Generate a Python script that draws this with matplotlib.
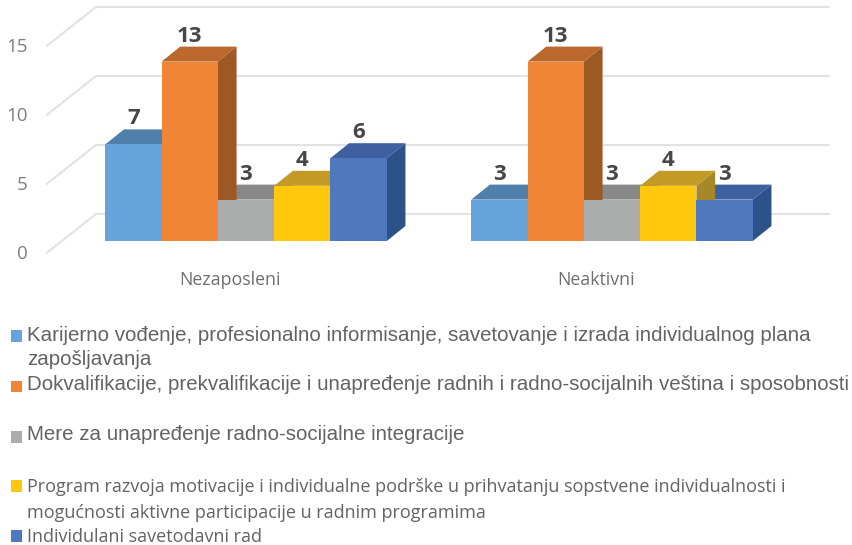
import matplotlib
matplotlib.use("Agg")
import matplotlib.pyplot as plt
from matplotlib.patches import Polygon, Rectangle

W, H = 853, 545
categories = ["Nezaposleni", "Neaktivni"]
karijerno = [7, 3]
dokvalifikacije = [13, 13]
mere = [3, 3]
program = [4, 4]
savetodavni = [6, 3]
y_ticks = [0, 5, 10, 15]

series = [karijerno, dokvalifikacije, mere, program, savetodavni]
front = ["#65A3DA", "#F08536", "#ABACAC", "#FFC80D", "#4F79BE"]
top = ["#4F80AB", "#BA682B", "#888888", "#C49A27", "#3E60A0"]
side = ["#3F6F9A", "#9E5823", "#6B6B6B", "#A68828", "#2D5289"]

legend_rows = [
    (["Karijerno vođenje, profesionalno informisanje, savetovanje i izrada individualnog plana",
      "zapošljavanja"], [340.7, 365], 330, 14.75, "Liberation Sans"),
    (["Dokvalifikacije, prekvalifikacije i unapređenje radnih i radno-socijalnih veština i sposobnosti"],
     [390], 380.5, 14.75, "Liberation Sans"),
    (["Mere za unapređenje radno-socijalne integracije"], [439.5], 431, 14.75, "Liberation Sans"),
    (["Program razvoja motivacije i individualne podrške u prihvatanju sopstvene individualnosti i",
      "mogućnosti aktivne participacije u radnim programima"], [491.5, 518], 480, 12.95, "Open Sans"),
    (["Individulani savetodavni rad"], [541.5], 530, 12.95, "Open Sans"),
]

# geometry (pixels)
PX_PER_UNIT = 13.8
BASE_Y = 241.0
GROUP0 = 246.0
GROUP_STEP = 366.0
BAR_W = 56.3

fig = plt.figure(figsize=(W / 100, H / 100), dpi=100, facecolor="white")
ax = fig.add_axes([0, 0, 1, 1])
ax.set_xlim(-GROUP0 / GROUP_STEP, (W - GROUP0) / GROUP_STEP)
ax.set_ylim((BASE_Y - H) / PX_PER_UNIT, BASE_Y / PX_PER_UNIT)
ax.axis("off")

bw = BAR_W / GROUP_STEP
ddx = 18.7 / GROUP_STEP
ddy = 15.0 / PX_PER_UNIT

# walls / gridlines
grid_c = "#E2E2E2"
wall_front_x = (47 - GROUP0) / GROUP_STEP
wall_back_x = (96 - GROUP0) / GROUP_STEP
grid_end_x = (829 - GROUP0) / GROUP_STEP
back_off = (BASE_Y - 214) / PX_PER_UNIT
front_off = (BASE_Y - 252.7) / PX_PER_UNIT
for v in y_ticks:
    ax.plot([wall_front_x, wall_back_x, grid_end_x],
            [v + front_off, v + back_off, v + back_off],
            color=grid_c, lw=1.5, zorder=1, solid_joinstyle="round")
    ax.text(wall_front_x - 19 / GROUP_STEP, v + front_off - 1.5 / PX_PER_UNIT, str(v),
            ha="right", va="center", fontsize=13.5, color="#7F7F7F",
            family="Open Sans", zorder=6)

n = len(series)
# sides and tops: lower bars first so that a taller neighbour hides them
for g in range(len(categories)):
    order = sorted(range(n), key=lambda j: (series[j][g], -j))
    for k, j in enumerate(order):
        v = series[j][g]
        x0 = g + (j - n / 2) * bw
        x1 = x0 + bw
        z = 2 + k * 0.01
        ax.add_patch(Polygon([(x1, 0), (x1 + ddx, ddy), (x1 + ddx, v + ddy), (x1, v)],
                             closed=True, fc=side[j], ec="none", zorder=z))
        ax.add_patch(Polygon([(x0, v), (x0 + ddx, v + ddy), (x1 + ddx, v + ddy), (x1, v)],
                             closed=True, fc=top[j], ec="none", zorder=z))
# fronts
for j, s in enumerate(series):
    xs = [g + (j - n / 2 + 0.5) * bw for g in range(len(categories))]
    ax.bar(xs, s, width=bw, color=front[j], edgecolor="none", zorder=3)
    for x, v in zip(xs, s):
        ax.text(x, v + ddy + 0.0, str(v), ha="center", va="bottom",
                fontsize=16, fontweight="bold", color="#474747",
                family="Open Sans", zorder=7, linespacing=1)

for g, c in enumerate(categories):
    ax.text(g - 16 / GROUP_STEP, (BASE_Y - 280) / PX_PER_UNIT, c, ha="center", va="center",
            fontsize=12.8, color="#6E6E6E", family="Open Sans")

# legend in pixel coordinates
ov = fig.add_axes([0, 0, 1, 1], facecolor="none")
ov.set_xlim(0, W)
ov.set_ylim(H, 0)
ov.axis("off")
for j, (lines, ys, sw_y, fs, fam) in enumerate(legend_rows):
    ov.add_patch(Rectangle((10.7, sw_y), 11, 11.8, fc=front[j], ec="none"))
    for line, y in zip(lines, ys):
        ov.text(26.7, y, line, ha="left", va="baseline",
                fontsize=fs, color="#636363", family=fam)

fig.savefig("out.png", dpi=100)
